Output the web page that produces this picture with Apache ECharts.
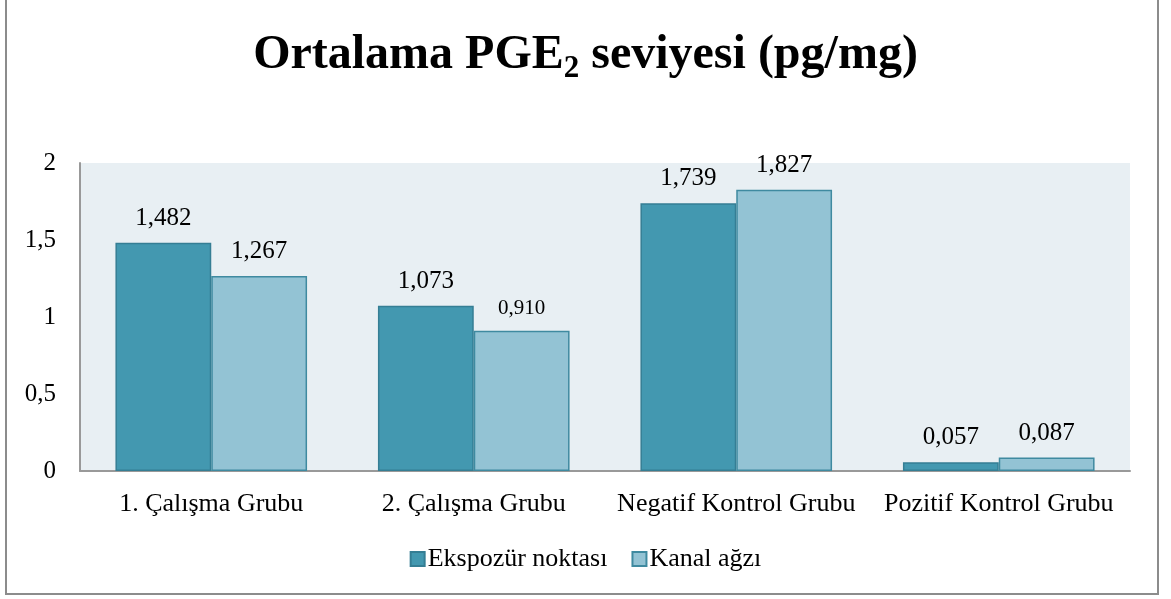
<!DOCTYPE html>
<html>
<head>
<meta charset="utf-8">
<script src="https://cdn.jsdelivr.net/npm/echarts@6/dist/echarts.min.js"></script>
<style>
html,body{margin:0;padding:0;background:#fff;}
#main{width:1171px;height:599px;}
</style>
</head>
<body>
<div id="main"></div>
<script>
var categories = ['1. Çalışma Grubu', '2. Çalışma Grubu', 'Negatif Kontrol Grubu', 'Pozitif Kontrol Grubu'];
var ekspozur = [1.482, 1.073, 1.739, 0.057];
var kanal = [1.267, 0.910, 1.827, 0.087];
var seriesNames = ['Ekspozür noktası', 'Kanal ağzı'];

var font = '"Liberation Serif", "Times New Roman", serif';
var chart = echarts.init(document.getElementById('main'));

function fmt(v){ return v.toFixed(3).replace('.', ','); }

chart.setOption({
  animation: false,
  backgroundColor: '#fff',
  textStyle: {fontFamily: font},
  title: {
    text: '{t|Ortalama PGE}{s|2}{t| seviyesi (pg/mg)}',
    left: 'center',
    top: 22,
    textStyle: {
      rich: {
        t: {fontFamily: font, fontSize: 48, fontWeight: 'bold', color: '#000'},
        s: {fontFamily: font, fontSize: 31, fontWeight: 'bold', color: '#000', padding: [26, 0, 0, 0]}
      }
    }
  },
  graphic: [{
    type: 'rect',
    shape: {x: 6, y: -2, width: 1152, height: 596},
    style: {fill: 'none', stroke: '#8c8c8c', lineWidth: 2},
    z: 100
  }],
  legend: {
    bottom: 22,
    left: 'center',
    itemWidth: 14,
    itemHeight: 14,
    itemGap: 24,
    icon: 'rect',
    textStyle: {fontFamily: font, fontSize: 26, color: '#000', padding: [0, 0, 0, -2]},
    data: seriesNames
  },
  grid: {left: 80, right: 41, top: 163, bottom: 128, backgroundColor: '#E8EFF3', show: true, borderWidth: 0},
  xAxis: {
    type: 'category',
    data: categories,
    axisLine: {lineStyle: {color: '#999', width: 2}},
    axisTick: {show: false},
    axisLabel: {interval: 0, fontFamily: font, fontSize: 26, color: '#000', margin: 20}
  },
  yAxis: {
    type: 'value',
    min: 0,
    max: 2,
    interval: 0.5,
    axisLine: {show: true, lineStyle: {color: '#999', width: 2}},
    axisTick: {show: false},
    splitLine: {show: false},
    axisLabel: {fontFamily: font, fontSize: 25, color: '#000', margin: 24,
      formatter: function(v){ return String(v).replace('.', ','); }}
  },
  series: [{
    name: seriesNames[0],
    type: 'bar',
    data: ekspozur,
    barGap: '0%',
    barCategoryGap: '27%',
    itemStyle: {color: '#4398B0', borderColor: '#357E94', borderWidth: 1.5},
    label: {show: true, position: 'top', distance: 12, fontFamily: font, fontSize: 25, color: '#000',
      formatter: function(p){ return fmt(p.value); }}
  }, {
    name: seriesNames[1],
    type: 'bar',
    data: kanal.map(function(v, i){
      return i === 1 ? {value: v, label: {fontSize: 21}} : v;
    }),
    itemStyle: {color: '#93C3D4', borderColor: '#3F8AA0', borderWidth: 1.5},
    label: {show: true, position: 'top', distance: 12, fontFamily: font, fontSize: 25, color: '#000',
      formatter: function(p){ return fmt(p.value); }}
  }]
});
</script>
</body>
</html>
